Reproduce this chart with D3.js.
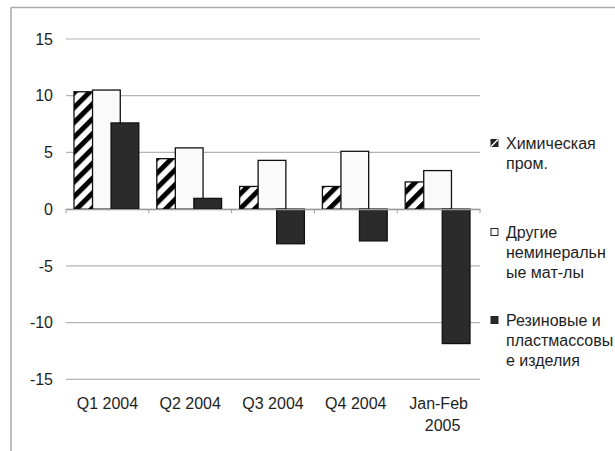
<!DOCTYPE html>
<html>
<head>
<meta charset="utf-8">
<script src="https://cdn.jsdelivr.net/npm/d3@7"></script>
<style>
  body { margin: 0; background: #fff; }
  text { font-family: "Liberation Sans", Arial, sans-serif; fill: #1e1e1e; }
</style>
</head>
<body>
<div class="chart"></div>
<script>
// chart data
var categories = ["Q1 2004", "Q2 2004", "Q3 2004", "Q4 2004", "Jan-Feb 2005"];
var seriesNames = ["Химическая пром.", "Другие неминеральные мат-лы", "Резиновые и пластмассовые изделия"];
var chemical = [10.35, 4.45, 2.0, 2.0, 2.4];
var otherMinerals = [10.5, 5.4, 4.3, 5.1, 3.4];
var rubberPlastic = [7.6, 0.95, -3.05, -2.8, -11.85];
var yTicks = [-15, -10, -5, 0, 5, 10, 15];

var svgWidth = 615;
var svgHeight = 451;
var fontSize = "16px";

var svg = d3.select(".chart")
  .append("svg")
  .attr("width", svgWidth)
  .attr("height", svgHeight);

// hatch pattern for first series
var defs = svg.append("defs");
defs.append("pattern")
  .attr("id", "hatch")
  .attr("patternUnits", "userSpaceOnUse")
  .attr("width", 10.5)
  .attr("height", 10.5)
  .attr("patternTransform", "rotate(45)")
  .call(function(p) {
    p.append("rect").attr("width", 10.5).attr("height", 10.5).attr("fill", "#fff");
    p.append("rect").attr("width", 5).attr("height", 10.5).attr("fill", "#000");
  });

// outer frame (only top and left edges show)
svg.append("line")
  .attr("x1", 11).attr("y1", 7.5).attr("x2", svgWidth).attr("y2", 7.5)
  .attr("stroke", "#aaa").attr("stroke-width", 1.5);
svg.append("line")
  .attr("x1", 11).attr("y1", 7.5).attr("x2", 11).attr("y2", svgHeight)
  .attr("stroke", "#aaa").attr("stroke-width", 1.5);

var xScale = d3.scaleBand()
  .domain(categories)
  .range([66, 480])
  .padding(0);

var yScale = d3.scaleLinear()
  .domain([-15, 15])
  .range([379.3, 39]);

// gridlines
svg.append("g")
  .selectAll("line")
  .data(yTicks)
  .enter().append("line")
    .attr("x1", 66)
    .attr("x2", 480)
    .attr("y1", function(d) { return yScale(d); })
    .attr("y2", function(d) { return yScale(d); })
    .attr("stroke", "#b4b4b4")
    .attr("stroke-width", 1.2);

// y labels
svg.append("g")
  .selectAll("text")
  .data(yTicks)
  .enter().append("text")
    .attr("x", 53)
    .attr("y", function(d) { return yScale(d); })
    .attr("dy", "0.36em")
    .attr("text-anchor", "end")
    .style("font-size", fontSize)
    .text(function(d) { return d; });

// bars
var bw = xScale.bandwidth();
var barW = bw * 0.335;
var step = barW * 0.668;
var offset = (bw - (barW + 2 * step)) / 2 - 1;

var series = [
  { values: chemical, fill: "url(#hatch)" },
  { values: otherMinerals, fill: "#fafafa" },
  { values: rubberPlastic, fill: "#2b2b2b" }
];

series.forEach(function(s, i) {
  svg.append("g")
    .selectAll("rect")
    .data(s.values)
    .enter().append("rect")
      .attr("x", function(d, j) { return xScale(categories[j]) + offset + i * step; })
      .attr("y", function(d) { return yScale(Math.max(0, d)); })
      .attr("width", barW)
      .attr("height", function(d) { return Math.abs(yScale(d) - yScale(0)); })
      .attr("fill", s.fill)
      .attr("stroke", "#111")
      .attr("stroke-width", 1.3);
});

// zero axis with category ticks
svg.append("g")
  .attr("transform", "translate(0," + yScale(0) + ")")
  .call(d3.axisBottom(xScale).tickSize(0).tickFormat(""))
  .call(function(g) {
    g.select(".domain").attr("stroke", "#999").attr("stroke-width", 1.2);
    g.selectAll(".tick").remove();
  });
svg.append("g")
  .selectAll("line")
  .data(categories.concat([null]))
  .enter().append("line")
    .attr("x1", function(d, j) { return 66 + j * bw; })
    .attr("x2", function(d, j) { return 66 + j * bw; })
    .attr("y1", yScale(0))
    .attr("y2", yScale(0) + 4)
    .attr("stroke", "#999");

// category labels
svg.append("g")
  .selectAll("text")
  .data(categories)
  .enter().append("text")
    .attr("text-anchor", "middle")
    .attr("y", 403)
    .style("font-size", fontSize)
    .each(function(d) {
      var t = d3.select(this);
      var cx = xScale(d) + bw / 2;
      var lines = d === "Jan-Feb 2005" ? ["Jan-Feb", "2005"] : [d];
      lines.forEach(function(line, k) {
        t.append("tspan")
          .attr("x", cx + (k > 0 ? 4 : 0))
          .attr("dy", k === 0 ? "0.36em" : "22px")
          .text(line);
      });
    });

// legend
var legendLines = [
  ["Химическая", "пром."],
  ["Другие", "неминеральн", "ые мат-лы"],
  ["Резиновые и", "пластмассовы", "е изделия"]
];
var legendY = [143, 232, 320];
var legendFill = ["url(#hatch)", "#fafafa", "#2b2b2b"];

var legend = svg.append("g");
legendLines.forEach(function(lines, i) {
  legend.append("rect")
    .attr("x", 491)
    .attr("y", legendY[i] - 3.5)
    .attr("width", 7)
    .attr("height", 7)
    .attr("fill", i === 0 ? "#222" : legendFill[i])
    .attr("stroke", "#222")
    .attr("stroke-width", 1);
  if (i === 0) {
    legend.append("path")
      .attr("d", "M" + 491 + "," + (legendY[i] + 3.5) + "L" + 498 + "," + (legendY[i] - 3.5))
      .attr("stroke", "#fff").attr("stroke-width", 1.5);
  }
  var t = legend.append("text")
    .attr("y", legendY[i])
    .style("font-size", fontSize);
  lines.forEach(function(line, k) {
    t.append("tspan")
      .attr("x", 506)
      .attr("dy", k === 0 ? "0.36em" : "20px")
      .text(line);
  });
});
</script>
</body>
</html>
